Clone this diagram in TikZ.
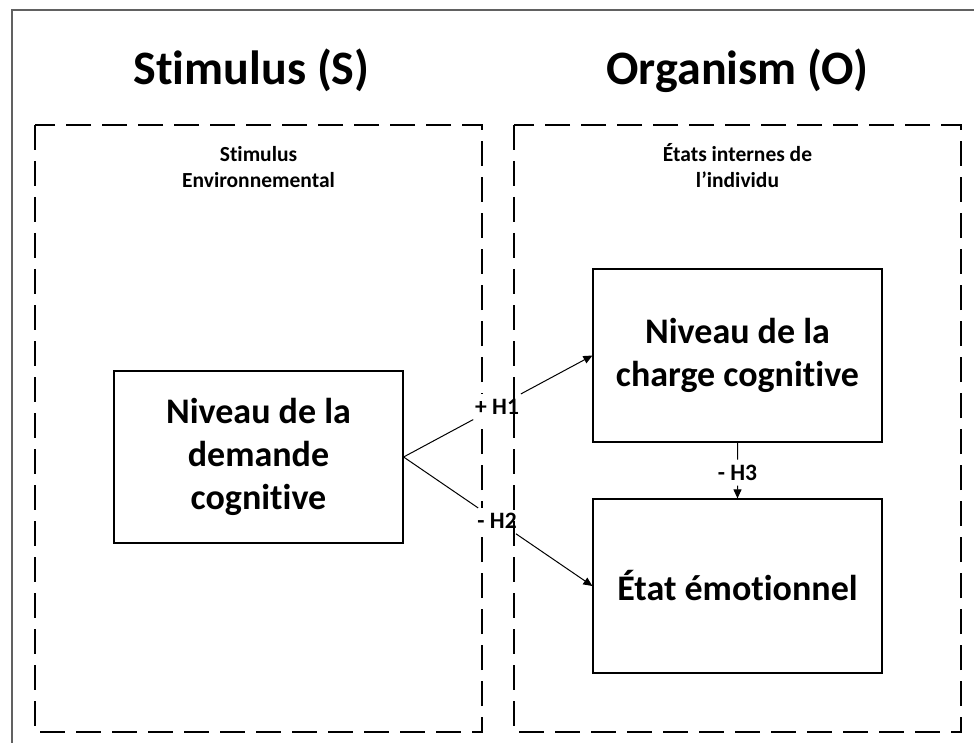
\documentclass[tikz,border=0pt]{standalone}
\usepackage{fontspec}
\setmainfont{Carlito}[Ligatures=NoCommon, RawFeature={-liga;-dlig;-clig}]
\usetikzlibrary{arrows.meta,calc}
\tikzset{
  frameline/.style={draw=black!62, line width=1.3pt},
  zone/.style={draw=black, line width=2.2pt, dash pattern=on 25pt off 11pt},
  title/.style={font=\fontsize{48}{58}\selectfont\bfseries, anchor=base, inner sep=0pt},
  subtitle/.style={font=\fontsize{21.5}{26}\selectfont\bfseries, align=center, anchor=base, inner sep=0pt},
  construct/.style={draw=black, line width=1.2pt, minimum width=289pt, align=center,
    font=\fontsize{36}{43}\selectfont\bfseries, inner sep=0pt},
  hyp/.style={fill=white, font=\fontsize{23.5}{28}\selectfont\bfseries, inner xsep=3pt, inner ysep=5pt},
  link/.style={draw=black, line width=1pt},
  tip/.style={-{Triangle[length=9pt,width=8pt]}}
}
\begin{document}
\begin{tikzpicture}[x=1pt,y=-1pt]
\useasboundingbox (0,0) rectangle (974,743);
% page frame (top and left edges)
\draw[frameline] (12,743) -- (12,10) -- (974,10);

% stimulus zone (under the hypothesis labels)
\draw[zone] (35,125) rectangle (482,732);

% headings
\node[title] (tS) at (251.5,85) {Stimulus (S)};
\node[title] (tO) at (737.5,85) {Organism (O)};
% anchor=base sits on the last line of a multi-line node
\node[subtitle] (sS) at (258.5,188) {Stimulus\\Environnemental};
\node[subtitle] (sO) at (737.5,188) {États internes de\\l’individu};

% constructs
\node[construct, minimum height=172pt] (demand) at (258.5,457) {Niveau de la\\demande\\cognitive};
\node[construct, minimum height=173pt] (charge) at (737.5,355.5) {Niveau de la\\charge cognitive};
\node[construct, minimum height=174pt] (emo) at (737.5,586) {État émotionnel};

% hypothesis labels
\node[hyp] (h1) at ($(demand.east)!0.495!(charge.west)$) {+ H1};
\node[hyp] (h2) at ($(demand.east)!0.495!(emo.west)$) {- H2};
\node[hyp] (h3) at ($(charge.south)!0.54!(emo.north)$) {- H3};

% links
\draw[link] (demand.east) -- (h1);
\draw[link, tip] (h1) -- (charge.west);
\draw[link] (demand.east) -- (h2);
\draw[link, tip] (h2) -- (emo.west);
\draw[link] (charge.south) -- (h3);
\draw[link, tip] (h3) -- (emo.north);

% organism zone
\draw[zone] (514,125) rectangle (961,732);
\end{tikzpicture}
\end{document}
